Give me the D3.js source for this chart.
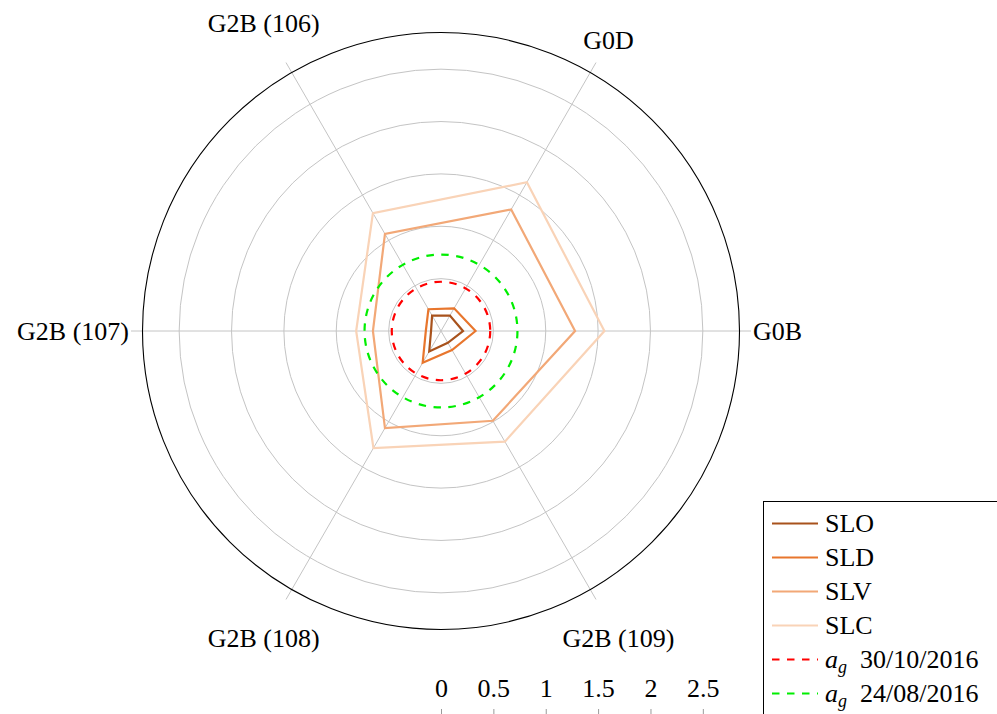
<!DOCTYPE html>
<html>
<head>
<meta charset="utf-8">
<script src="https://cdn.jsdelivr.net/npm/d3@7"></script>
<style>
  html, body { margin: 0; padding: 0; background: #fff; }
  svg { display: block; font-family: "Liberation Serif", "Times New Roman", serif; }
</style>
</head>
<body>
<svg id="chart" width="997" height="714"></svg>
<script>
// Spokes of the polar plot, counter-clockwise from the east
const axes = ["G0B", "G0D", "G2B (106)", "G2B (107)", "G2B (108)", "G2B (109)"];

// Values per series along the spokes (same order as axes)
const sloValues = [0.21, 0.17, 0.17, 0.095, 0.225, 0.13];
const sldValues = [0.33, 0.25, 0.24, 0.145, 0.35, 0.21];
const slvValues = [1.28, 1.34, 1.07, 0.65, 1.07, 0.99];
const slcValues = [1.56, 1.64, 1.30, 0.81, 1.29, 1.22];
const seriesNames = ["SLO", "SLD", "SLV", "SLC"];

// Reference accelerations (drawn as dashed circles)
const agValues = [0.47, 0.73];
const agDates = ["30/10/2016", "24/08/2016"];

// Radial grid and radial tick labels
const gridValues = [0.5, 1, 1.5, 2, 2.5];
const radialTicks = [0, 0.5, 1, 1.5, 2, 2.5];
const radialTickLabels = ["0", "0.5", "1", "1.5", "2", "2.5"];

const seriesColors = ["#a8521c", "#e8762d", "#f2a877", "#f9d3b7"];
const agColors = ["#ff0000", "#00ee00"];

const cx = 441, cy = 331;
const rMaxValue = 2.85, rOuter = 298.5, rSpoke = 310;
const FONT = 26;
const FAMILY = "'Liberation Serif', 'Times New Roman', serif";

const svg = d3.select("#chart");
const r = d3.scaleLinear().domain([0, rMaxValue]).range([0, rOuter]);
const angleOf = i => i * Math.PI / 3;              // math angle (ccw from east)
const radialAngle = i => Math.PI / 2 - angleOf(i);  // d3 radial angle (cw from north)

const g = svg.append("g").attr("transform", `translate(${cx},${cy})`);

// grid circles
g.selectAll("circle.grid").data(gridValues).join("circle")
  .attr("class", "grid")
  .attr("r", d => r(d))
  .attr("fill", "none").attr("stroke", "#c4c4c4").attr("stroke-width", 1);

// spokes
g.selectAll("line.spoke").data(axes).join("line")
  .attr("class", "spoke")
  .attr("x1", 0).attr("y1", 0)
  .attr("x2", (d, i) => rSpoke * Math.cos(angleOf(i)))
  .attr("y2", (d, i) => -rSpoke * Math.sin(angleOf(i)))
  .attr("stroke", "#c4c4c4").attr("stroke-width", 1);

// outer boundary
g.append("circle").attr("r", rOuter)
  .attr("fill", "none").attr("stroke", "#000").attr("stroke-width", 1.1);

// series polygons
const radialLine = d3.lineRadial()
  .angle((d, i) => radialAngle(i))
  .radius(d => r(d))
  .curve(d3.curveLinearClosed);

const seriesData = [sloValues, sldValues, slvValues, slcValues];
g.selectAll("path.series").data(seriesData).join("path")
  .attr("class", "series")
  .attr("d", d => radialLine(d))
  .attr("fill", "none")
  .attr("stroke", (d, i) => seriesColors[i])
  .attr("stroke-width", 2.2)
  .attr("stroke-linejoin", "miter");

// dashed reference circles
g.selectAll("circle.ag").data(agValues).join("circle")
  .attr("class", "ag")
  .attr("r", d => r(d))
  .attr("fill", "none")
  .attr("stroke", (d, i) => agColors[i])
  .attr("stroke-width", 2.2)
  .attr("stroke-dasharray", "7.5 7.5");

// spoke labels
axes.forEach((name, i) => {
  const a = angleOf(i);
  const c = Math.cos(a), s = Math.sin(a);
  const t = g.append("text")
    .attr("font-size", FONT)
    .attr("font-family", FAMILY)
    .attr("dy", "0.33em")
    .text(name);
  if (Math.abs(s) < 1e-6) {
    const rr = rSpoke + 2;
    t.attr("text-anchor", c > 0 ? "start" : "end")
      .attr("x", rr * c).attr("y", 0);
  } else {
    const w = t.node().getComputedTextLength();
    const rr = 319 + 0.32 * w;
    t.attr("text-anchor", "middle")
      .attr("x", rr * c).attr("y", -rr * s);
  }
});

// radial axis along the bottom edge
const xr = d3.scaleLinear().domain([0, rMaxValue]).range([cx, cx + rOuter]);
const axis = d3.axisTop(xr)
  .tickValues(radialTicks)
  .tickFormat((d, i) => radialTickLabels[i])
  .tickSize(11)
  .tickPadding(12);
const axG = svg.append("g").attr("transform", "translate(0,720)").call(axis);
axG.attr("font-family", FAMILY);
axG.select(".domain").remove();
axG.selectAll(".tick line").attr("stroke", "#9a9a9a");
axG.selectAll(".tick text")
  .attr("font-size", FONT)
  .attr("font-family", FAMILY)
  .attr("fill", "#000");

// legend
const lg = svg.append("g");
lg.append("rect")
  .attr("x", 763.5).attr("y", 501.5)
  .attr("width", 280).attr("height", 260)
  .attr("fill", "#fff").attr("stroke", "#000").attr("stroke-width", 1);

const legendItems = seriesNames.map((n, i) => ({ label: n, color: seriesColors[i], dashed: false }))
  .concat(agDates.map((d, i) => ({ label: d, color: agColors[i], dashed: true, ag: true })));

const rowY = i => 523.5 + i * 34;
legendItems.forEach((it, i) => {
  const y = rowY(i);
  lg.append("line")
    .attr("x1", 772).attr("x2", 818)
    .attr("y1", y).attr("y2", y)
    .attr("stroke", it.color).attr("stroke-width", 2.2)
    .attr("stroke-dasharray", it.dashed ? "7.5 7.5" : null);
  const t = lg.append("text")
    .attr("x", 825).attr("y", y + 8)
    .attr("font-size", FONT)
    .attr("font-family", FAMILY);
  if (it.ag) {
    t.append("tspan").attr("font-style", "italic").text("a");
    t.append("tspan").attr("font-style", "italic").attr("font-size", 18)
      .attr("dy", 5).text("g");
    t.append("tspan").attr("x", 860).attr("dy", -5).text(it.label);
  } else {
    t.text(it.label);
  }
});
</script>
</body>
</html>
